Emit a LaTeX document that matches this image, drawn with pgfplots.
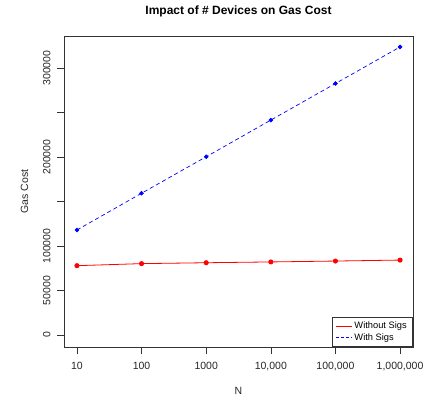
\documentclass[border=0pt]{standalone}
\usepackage{pgfplots}
\pgfplotsset{compat=1.18}
\usepackage{fontspec}
\setmainfont{Liberation Sans}
\begin{document}
\begin{tikzpicture}
\begin{axis}[
  name=ax,
  scale only axis,
  width=349pt, height=311pt,
  xmode=log,
  xmin=6.31, xmax=1.585e6,
  ymin=-13500, ymax=336000,
  scaled y ticks=false,
  xtick={10,100,1000,10000,100000,1000000},
  xticklabels={10,100,1000,{10,000},{100,000},{1,000,000}},
  ytick={0,50000,100000,150000,200000,250000,300000},
  yticklabels={0,50000,100000,{},200000,{},300000},
  xminorticks=false,
  tick align=outside,
  tick pos=left,
  major tick length=7pt,
  tick style={black!80, line width=0.6pt},
  axis line style={black!80, line width=0.8pt},
  ticklabel style={font=\fontsize{10.5}{12}\selectfont, text=black!85},
  yticklabel style={rotate=90, anchor=south, yshift=3pt},
  xticklabel style={yshift=-5pt},
  title={\bfseries Impact of \# Devices on Gas Cost},
  title style={font=\fontsize{12}{14}\selectfont, yshift=9pt},
  xlabel={N}, ylabel={Gas Cost},
  label style={font=\fontsize{10.5}{12}\selectfont, text=black!85},
  xlabel style={yshift=-9pt},
  ylabel style={yshift=8pt},
  legend style={at={(1,0)}, anchor=south east, font=\fontsize{9.3}{11}\selectfont,
    draw=black!80, line width=0.6pt, inner xsep=4pt, inner ysep=3pt, row sep=-1pt,
    legend cell align=left},
  clip=false,
]
\addplot[red, line width=0.8pt, mark=*, mark size=2.1pt, mark options={solid}, forget plot] coordinates {
  (10,77900) (100,80200) (1000,81200) (10000,82100) (100000,83100) (1000000,84200)};
\addplot[blue, line width=0.7pt, dash pattern=on 4pt off 3pt, mark=*, mark size=1.9pt, mark options={solid}, forget plot] coordinates {
  (10,118000) (100,159300) (1000,200300) (10000,241500) (100000,282600) (1000000,323700)};
\addlegendimage{legend image code/.code={\draw[draw=red, line width=0.8pt] (0cm,0cm) -- (0.55cm,0cm);}}
\addlegendentry{Without Sigs}
\addlegendimage{legend image code/.code={\draw[draw=blue, line width=0.8pt, dash pattern=on 3pt off 2pt] (0cm,0cm) -- (0.55cm,0cm);}}
\addlegendentry{With Sigs}
\end{axis}
\path ([shift={(-64pt,-53pt)}]ax.south west) rectangle ([shift={(15pt,36pt)}]ax.north east);
\end{tikzpicture}
\end{document}
